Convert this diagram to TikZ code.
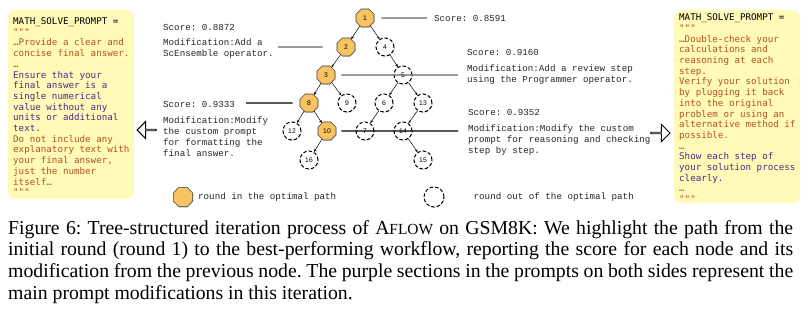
\documentclass[tikz,border=0pt]{standalone}
\usepackage{fontspec}
\setmainfont{Liberation Serif}
\newfontfamily\promptfont{DejaVu Sans Mono}
\newfontfamily\notefont{Liberation Mono}
\newfontfamily\roundfont{Liberation Sans}
\usetikzlibrary{
  arrows.meta, positioning, shapes.geometric, shapes.arrows, shadows
}
\definecolor{promptbg}{HTML}{FFFAB8}
\definecolor{promptold}{HTML}{B5521E}
\definecolor{promptnew}{HTML}{4B2D83}
\definecolor{hitfill}{HTML}{F8C462}
\definecolor{leadgray}{HTML}{666666}
\definecolor{notetext}{HTML}{262626}
\frenchspacing

\begin{document}
\begin{tikzpicture}[x=1pt, y=-1pt,
  hit/.style={regular polygon, regular polygon sides=8, draw=black!75,
    fill=hitfill, line width=0.6pt, minimum size=19.5pt, inner sep=0pt,
    font=\roundfont\fontsize{6.8}{7}\selectfont,
    drop shadow={shadow xshift=0.6pt, shadow yshift=-0.8pt, opacity=0.3}},
  miss/.style={circle, draw=black, fill=white, dash pattern=on 3.5pt off 2pt,
    line width=1pt, minimum size=18pt, inner sep=0pt,
    font=\roundfont\fontsize{6.8}{7}\selectfont,
    drop shadow={shadow xshift=0.6pt, shadow yshift=-0.8pt, opacity=0.3}},
  link/.style={-{Stealth[length=3pt, width=2.6pt]}, line width=0.5pt},
  leader/.style={line width=1.1pt, draw=leadgray},
  note/.style={anchor=north west, inner sep=0pt, align=left, text=notetext,
    font=\notefont\fontsize{9.2}{11}\selectfont},
  prompt/.style={anchor=north west, inner sep=0pt, align=left, text=promptold,
    font=\promptfont\fontsize{9.2}{10.7}\selectfont},
  panel/.style={fill=promptbg, rounded corners=8pt},
  hollow/.style={single arrow, draw=black, fill=white, line width=0.9pt,
    minimum height=19pt, minimum width=17pt, single arrow head extend=4.5pt,
    inner sep=0pt}
]
  \useasboundingbox (0,0) rectangle (809,313);

  % prompt panels
  \path[panel] (8,10) rectangle (134,199);
  \path[panel] (674,10) rectangle (800,203);
  \node[prompt] (lp) at (13,17.5) {{\color{black}MATH\_SOLVE\_PROMPT =}\\
    """\\
    …Provide a clear and\\
    concise final answer.\\
    …\\
    {\color{promptnew}Ensure that your}\\
    {\color{promptnew}final answer is a}\\
    {\color{promptnew}single numerical}\\
    {\color{promptnew}value without any}\\
    {\color{promptnew}units or additional}\\
    {\color{promptnew}text.}\\
    Do not include any\\
    explanatory text with\\
    your final answer,\\
    just the number\\
    itself…\\
    """};
  \node[prompt] (rp) at (679,13.7) {{\color{black}MATH\_SOLVE\_PROMPT =}\\
    """\\
    …Double-check your\\
    calculations and\\
    reasoning at each\\
    step.\\
    Verify your solution\\
    by plugging it back\\
    into the original\\
    problem or using an\\
    alternative method if\\
    possible.\\
    …\\
    {\color{promptnew}Show each step of}\\
    {\color{promptnew}your solution process}\\
    {\color{promptnew}clearly.}\\
    …\\
    """};
  \node[hollow, rotate=180] (la) at (147,130) {};
  \node[hollow] (ra) at (660,133) {};

  % tree of rounds
  \node[hit]  (n1)  at (365,18)  {1};
  \node[hit]  (n2)  at (346,47)  {2};
  \node[miss] (n4)  at (385,47)  {4};
  \node[hit]  (n3)  at (326,75)  {3};
  \node[miss] (n5)  at (403,75)  {5};
  \node[hit]  (n8)  at (309,103) {8};
  \node[miss] (n9)  at (347,103) {9};
  \node[miss] (n6)  at (384,103) {6};
  \node[miss] (n13) at (423,103) {13};
  \node[miss] (n12) at (292,131) {12};
  \node[hit]  (n10) at (327,131) {10};
  \node[miss] (n7)  at (365,131) {7};
  \node[miss] (n14) at (403,131) {14};
  \node[miss] (n16) at (309,160) {16};
  \node[miss] (n15) at (423,160) {15};
  \draw[link] (n1) -- (n2);
  \draw[link] (n1) -- (n4);
  \draw[link] (n2) -- (n3);
  \draw[link] (n4) -- (n5);
  \draw[link] (n3) -- (n8);
  \draw[link] (n3) -- (n9);
  \draw[link] (n5) -- (n6);
  \draw[link] (n5) -- (n13);
  \draw[link] (n8) -- (n12);
  \draw[link] (n8) -- (n10);
  \draw[link] (n6) -- (n7);
  \draw[link] (n13) -- (n14);
  \draw[link] (n10) -- (n16);
  \draw[link] (n14) -- (n15);

  % scores and modifications
  \coordinate (e1) at (427,18);
  \coordinate (e2) at (278,47);
  \coordinate (e3) at (458,75);
  \coordinate (e8) at (246,103);
  \coordinate (e10) at (458,131);
  \draw[leader, shorten <=7pt] (n1) -- (e1);
  \draw[leader, shorten <=14pt] (n2) -- (e2);
  \draw[leader, shorten <=6pt] (n3) -- (e3);
  \draw[leader, draw=black, shorten <=7pt] (n8) -- (e8);
  \draw[leader, draw=black, shorten <=5pt] (n10) -- (e10);
  \node[note, right=7pt of e1] (s1) {Score: 0.8591};
  \node[note] (s2) at (163,24) {Score: 0.8872\\[4pt]
    Modification:Add a\\ScEnsemble operator.};
  \node[note] (s3) at (467,49) {Score: 0.9160\\[5pt]
    Modification:Add a review step\\using the Programmer operator.};
  \node[note] (s8) at (163,101) {Score: 0.9333\\[5.5pt]
    Modification:Modify\\the custom prompt\\for formatting the\\final answer.};
  \node[note] (s10) at (468,109) {Score: 0.9352\\[5pt]
    Modification:Modify the custom\\prompt for reasoning and checking\\step by step.};

  % legend
  \node[hit, minimum size=21pt] (kh) at (183,197) {};
  \node[note, right=5pt of kh] (kht) {round in the optimal path};
  \node[miss, minimum size=20pt] (km) at (434,197) {};
  \node[note, right=29pt of km] (kmt) {round out of the optimal path};

  % caption
  \node[anchor=north west, inner sep=0pt, text width=785pt, align=justify,
    font=\fontsize{19.75}{21.7}\selectfont] (cap) at (8,220)
    {Figure 6: Tree-structured iteration process of
    A{\fontsize{15.4}{21.7}\selectfont FLOW} on GSM8K: We highlight the path
    from the\linebreak initial round (round 1) to the best-performing workflow,
    reporting the score for each node and its\linebreak modification from the
    previous node. The purple sections in the prompts on both sides represent
    the\linebreak main prompt modifications in this iteration.};
\end{tikzpicture}
\end{document}
